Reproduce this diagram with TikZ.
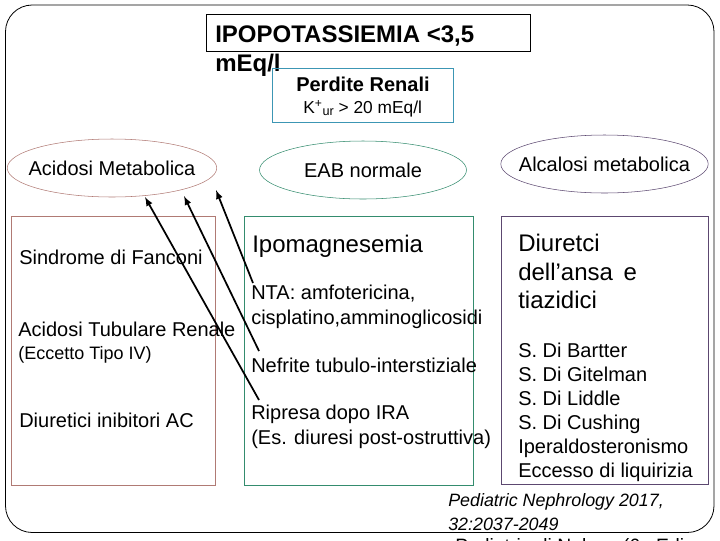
\documentclass[tikz,border=0pt]{standalone}
\usepackage{fontspec}
\setmainfont{Liberation Sans}
\usepackage{xcolor}
\usetikzlibrary{shapes.geometric, arrows}
\definecolor{rossoc}{RGB}{176,122,116}
\definecolor{verdec}{RGB}{52,140,110}
\definecolor{violac}{RGB}{92,72,112}
\definecolor{bluec}{RGB}{60,150,180}
\newcommand{\fs}[2]{\fontsize{#1}{#2}\selectfont}
\tikzset{
  testo/.style={anchor=north west, inner sep=0pt, align=left},
  ovale/.style={draw, ellipse, inner ysep=0pt, line width=0.4pt, minimum width=155.25pt, minimum height=43.5pt, font=\fs{15}{17}},
  riquadro/.style={draw, inner sep=0pt, line width=0.5pt},
  freccia/.style={line width=1.3pt, -latex},
}
\begin{document}
\begin{tikzpicture}[x=0.75pt, y=-0.75pt]
\useasboundingbox (0,0) rectangle (720,540);
% cornice
\draw[line width=0.6pt, rounded corners=20pt] (5.5,5) rectangle (714,532.5);
% titolo
\draw[riquadro] (206.5,14.5) rectangle (530.5,51.5);
\node[testo, font=\fs{18}{21.8}\bfseries] (titolo) at (215,25) {IPOPOTASSIEMIA <3,5\\mEq/l};
\draw[riquadro, draw=bluec] (272.5,68.5) rectangle (453.5,122.5);
\node[testo, font=\fs{15}{17}\bfseries] (perdite) at (296,77) {Perdite Renali};
\node[testo, font=\fs{13}{15}] (kur) at (303,100) {K\textsuperscript{+}\raisebox{-2pt}{\fs{9.5}{10}ur} > 20 mEq/l};
% ovali
\node[ovale, draw=rossoc, inner xsep=-7pt] (acidosi) at (112,168) {Acidosi Metabolica};
\node[ovale, draw=verdec, inner xsep=0pt] (eab) at (363,170) {EAB normale};
\node[ovale, draw=violac, inner xsep=-9.2pt] (alcalosi) at (604.5,164) {Alcalosi metabolica};
% riquadri
\draw[riquadro, draw=rossoc] (11.5,216.5) rectangle (215.5,485.5);
\draw[riquadro, draw=verdec] (244.5,216.5) rectangle (473.5,485.5);
\draw[riquadro, draw=violac] (501.5,216.5) rectangle (708.5,484.5);
% sinistra
\node[testo, font=\fs{15}{17}] (fanconi) at (19,250) {Sindrome di Fanconi};
\node[testo, font=\fs{15}{17}] (tubulare) at (18,322) {Acidosi Tubulare Renale};
\node[testo, font=\fs{13.5}{15}] (tipo) at (18,346) {(Eccetto Tipo IV)};
\node[testo, font=\fs{15}{17}] (inibitori) at (19,413) {Diuretici inibitori AC};
% centro
\node[testo, font=\fs{18}{20}] (ipomg) at (252,235) {Ipomagnesemia};
\node[testo, font=\fs{15}{18.75}] (nta) at (251,285) {NTA: amfotericina,\\cisplatino,amminoglicosidi};
\node[testo, font=\fs{15}{17}] (nefrite) at (251,358) {Nefrite tubulo-interstiziale};
\node[testo, font=\fs{15}{18.75}] (ripresa) at (251,405) {Ripresa dopo IRA\\(Es. diuresi post-ostruttiva)};
% destra
\node[testo, font=\fs{18}{21.4}] (diuretici) at (518,234) {Diuretci\\dell’ansa\, e\\tiazidici};
\node[testo, font=\fs{15}{18}] (sindromi) at (518,343) {S. Di Bartter\\S. Di Gitelman\\S. Di Liddle\\S. Di Cushing\\Iperaldosteronismo\\Eccesso di liquirizia};
% fonte
\node[testo, font=\fs{13.4}{18}\itshape] (fonte) at (448,493) {Pediatric Nephrology 2017,\\32:2037-2049};
\node[testo, font=\fs{14.5}{18}] (nelson) at (455,538) {Pediatria di Nelson (6a Ediz};
% frecce
\coordinate (c1) at (259,400);
\coordinate (c2) at (259,351);
\coordinate (c3) at (253,283);
\coordinate (t1) at (145,197);
\coordinate (t2) at (184,196);
\coordinate (t3) at (216,190);
\draw[freccia] (c1) -- (t1);
\draw[freccia] (c2) -- (t2);
\draw[freccia] (c3) -- (t3);
\end{tikzpicture}
\end{document}
